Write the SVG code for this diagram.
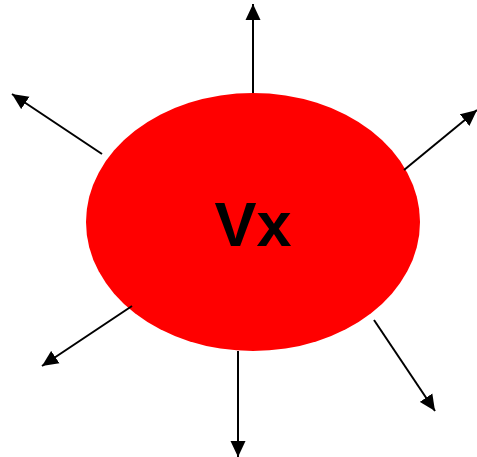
<svg xmlns="http://www.w3.org/2000/svg" width="477" height="457" viewBox="0 0 477 457">
  <style>
    .edge { stroke: #000; stroke-width: 2; fill: none; marker-end: url(#arrow); }
    .label { font-family: "Liberation Sans", Arial, sans-serif; font-weight: bold; font-size: 63px; fill: #000; }
  </style>
  <defs>
    <marker id="arrow" markerUnits="userSpaceOnUse" markerWidth="16" markerHeight="16" viewBox="0 0 16 16" refX="16" refY="8" orient="auto">
      <path d="M0,0.5 L16,8 L0,15.5 Z" fill="#000"/>
    </marker>
  </defs>
  <rect width="477" height="457" fill="#fff"/>
  <g id="node-vx">
    <ellipse cx="253" cy="222" rx="167" ry="129" fill="#ff0000"/>
    <text class="label" x="253" y="246" text-anchor="middle">Vx</text>
  </g>
  <g id="connectors">
    <line class="edge" x1="253" y1="93" x2="253" y2="4"/>
    <line class="edge" x1="102" y1="154" x2="12" y2="94"/>
    <line class="edge" x1="404" y1="170" x2="477" y2="110"/>
    <line class="edge" x1="132" y1="306" x2="42" y2="366"/>
    <line class="edge" x1="238" y1="351" x2="238" y2="457"/>
    <line class="edge" x1="374" y1="320" x2="435" y2="411"/>
  </g>
</svg>
